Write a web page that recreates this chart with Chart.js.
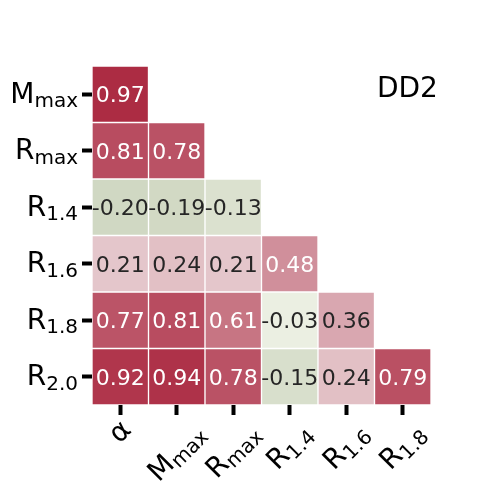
<!DOCTYPE html>
<html lang="en">
<head>
<meta charset="UTF-8">
<title>DD2 correlation</title>
<script src="https://cdn.jsdelivr.net/npm/chart.js"></script>
<style>
  html, body { margin: 0; padding: 0; background: #fff; }
  #wrap { width: 498px; height: 497px; }
</style>
</head>
<body>
<div id="wrap"><canvas id="heat" width="498" height="497"></canvas></div>
<script>
// axis labels as [main text, subscript]
const rowLabels = [['M', 'max'], ['R', 'max'], ['R', '1.4'], ['R', '1.6'], ['R', '1.8'], ['R', '2.0']];
const colLabels = [['α', ''], ['M', 'max'], ['R', 'max'], ['R', '1.4'], ['R', '1.6'], ['R', '1.8']];
const colKeys = ['alpha', 'Mmax', 'Rmax', 'R14', 'R16', 'R18'];

// lower triangle of the correlation matrix, one row each
const rowMmax = [0.97];
const rowRmax = [0.81, 0.78];
const rowR14 = [-0.20, -0.19, -0.13];
const rowR16 = [0.21, 0.24, 0.21, 0.48];
const rowR18 = [0.77, 0.81, 0.61, -0.03, 0.36];
const rowR20 = [0.92, 0.94, 0.78, -0.15, 0.24, 0.79];
const corr = [rowMmax, rowRmax, rowR14, rowR16, rowR18, rowR20];
const eosName = 'DD2';

const MAIN_FONT = '28px "DejaVu Sans"';
const SUB_FONT = '20px "DejaVu Sans"';
const SUB_SHIFT = 4.5;
const TICK_LEN = 10;

// green (neg) -> light -> red (pos)
function cellColor(v) {
    const zero = v >= 0 ? [244, 240, 240] : [240, 243, 231];
    const end = v >= 0 ? [170, 38, 62] : [81, 108, 49];
    const t = Math.min(Math.abs(v), 1);
    const c = zero.map((z, k) => Math.round(z + (end[k] - z) * t));
    return `rgb(${c[0]}, ${c[1]}, ${c[2]})`;
}

const datasets = corr.map((vals, i) => ({
    label: rowLabels[i].join('_'),
    data: colKeys.map((_, j) => j < vals.length ? [i, i + 1] : null),
    values: vals,
    backgroundColor: colKeys.map((_, j) => j < vals.length ? cellColor(vals[j]) : 'rgba(0,0,0,0)'),
    borderColor: '#ffffff',
    borderWidth: 1,
    borderSkipped: false,
    barPercentage: 1,
    categoryPercentage: 1,
    grouped: false
}));

function measureLabel(ctx, lab) {
    ctx.font = MAIN_FONT;
    const m = ctx.measureText(lab[0]);
    let width = m.width;
    let bottom = m.actualBoundingBoxDescent;
    if (lab[1]) {
        ctx.font = SUB_FONT;
        const s = ctx.measureText(lab[1]);
        width += s.width;
        bottom = Math.max(bottom, SUB_SHIFT + s.actualBoundingBoxDescent);
    }
    return { width, top: -m.actualBoundingBoxAscent, bottom };
}

function drawLabel(ctx, lab, x, y) {
    ctx.font = MAIN_FONT;
    ctx.fillText(lab[0], x, y);
    if (lab[1]) {
        const w = ctx.measureText(lab[0]).width;
        ctx.font = SUB_FONT;
        ctx.fillText(lab[1], x + w, y + SUB_SHIFT);
    }
}

// numbers inside the cells
const cellText = {
    id: 'cellText',
    afterDatasetsDraw(chart) {
        const ctx = chart.ctx;
        ctx.save();
        ctx.font = '22px "DejaVu Sans"';
        ctx.textAlign = 'center';
        ctx.textBaseline = 'alphabetic';
        chart.data.datasets.forEach((ds, i) => {
            chart.getDatasetMeta(i).data.forEach((bar, j) => {
                if (j >= ds.values.length) return;
                const v = ds.values[j];
                const p = bar.getCenterPoint();
                ctx.fillStyle = Math.abs(v) > 0.45 ? '#ffffff' : '#262626';
                ctx.fillText(v.toFixed(2), p.x, p.y + 8);
            });
        });
        ctx.restore();
    }
};

// mathtext-like tick labels and the EOS name
const axisText = {
    id: 'axisText',
    afterDraw(chart) {
        const ctx = chart.ctx;
        const area = chart.chartArea;
        const xs = chart.scales.x, ys = chart.scales.y;
        ctx.save();
        ctx.fillStyle = '#000';
        ctx.textAlign = 'left';
        ctx.textBaseline = 'alphabetic';

        rowLabels.forEach((lab, i) => {
            const b = measureLabel(ctx, lab);
            const cy = ys.getPixelForValue(i + 0.5);
            const x = area.left - TICK_LEN - 4 - b.width;
            drawLabel(ctx, lab, x, cy - (b.top + b.bottom) / 2);
        });

        colLabels.forEach((lab, j) => {
            const b = measureLabel(ctx, lab);
            const h = b.bottom - b.top;
            const ext = (b.width + h) * Math.SQRT1_2;
            const cx = xs.getPixelForValue(j);
            const cy = area.bottom + TICK_LEN + 5 + ext / 2;
            ctx.save();
            ctx.translate(cx, cy);
            ctx.rotate(-Math.PI / 4);
            drawLabel(ctx, lab, -b.width / 2, -(b.top + b.bottom) / 2);
            ctx.restore();
        });

        ctx.font = MAIN_FONT;
        ctx.fillText(eosName, 377, 97);
        ctx.restore();
    }
};

const tickGrid = {
    offset: false,
    drawOnChartArea: false,
    drawTicks: true,
    tickLength: TICK_LEN,
    tickWidth: 4,
    tickColor: '#000'
};

new Chart(document.getElementById('heat').getContext('2d'), {
    type: 'bar',
    data: { labels: colKeys, datasets: datasets },
    options: {
        responsive: false,
        animation: false,
        devicePixelRatio: 1,
        layout: { padding: { left: 0, right: 67, top: 66, bottom: 0 } },
        datasets: { bar: { grouped: false } },
        plugins: { legend: { display: false }, tooltip: { enabled: false } },
        scales: {
            x: {
                type: 'category',
                offset: true,
                grid: tickGrid,
                border: { display: false },
                ticks: { display: false },
                afterFit: s => { s.height = 92; }
            },
            y: {
                type: 'linear',
                min: 0,
                max: rowLabels.length,
                reverse: true,
                afterBuildTicks: s => { s.ticks = rowLabels.map((_, i) => ({ value: i + 0.5 })); },
                grid: tickGrid,
                border: { display: false },
                ticks: { display: false },
                afterFit: s => { s.width = 92; }
            }
        }
    },
    plugins: [cellText, axisText]
});
</script>
</body>
</html>
